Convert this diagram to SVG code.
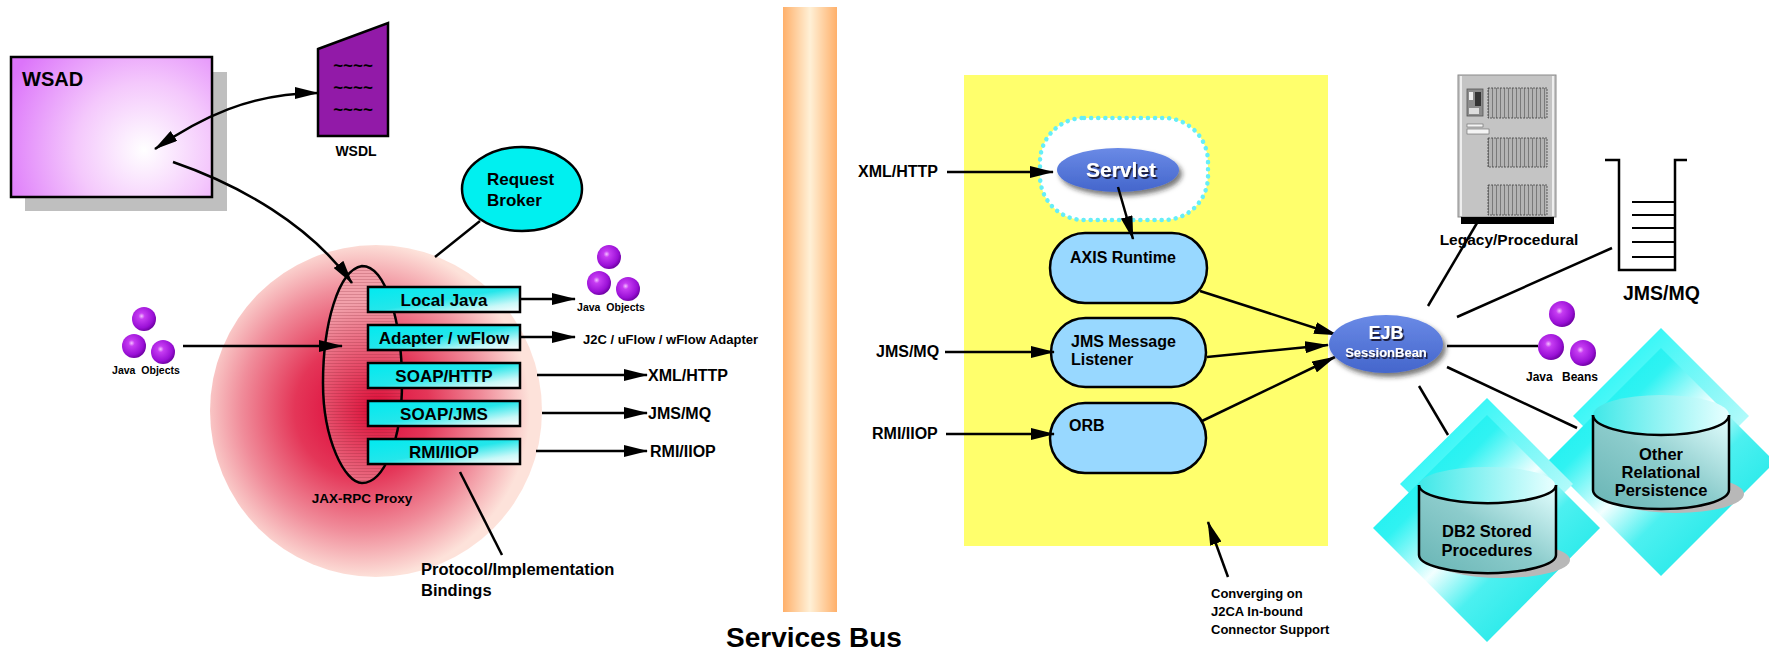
<svg xmlns="http://www.w3.org/2000/svg" xmlns:xlink="http://www.w3.org/1999/xlink" width="1769" height="652" viewBox="0 0 1769 652">
  <style>
    text { font-family: "Liberation Sans", Arial, sans-serif; font-weight: bold; fill: #000; }
    .line { fill: none; stroke: #000; stroke-width: 2.5; }
    .arrow { fill: none; stroke: #000; stroke-width: 2.5; marker-end: url(#head); }
    .pbox { fill: url(#pboxGrad); stroke: #000; stroke-width: 2.5; }
    .pill { fill: #98d8ff; stroke: #000; stroke-width: 2.5; }
    .plabel { font-size: 17px; text-anchor: middle; }
    .lbl16 { font-size: 16px; }
    .oval { fill: url(#ovalGrad); filter: url(#shadow); }
    .white { fill: #fff; filter: url(#textShadow); }
    .cyl { fill: url(#cylGrad); stroke: #000; stroke-width: 2.5; }
    .mid { text-anchor: middle; }
  </style>
  <defs>
    <marker id="head" viewBox="0 0 24 12" refX="23" refY="6" markerWidth="24" markerHeight="12" markerUnits="userSpaceOnUse" orient="auto-start-reverse">
      <path d="M0,0 L24,6 L0,12 z" fill="#000"/>
    </marker>
    <radialGradient id="wsadGrad" gradientUnits="userSpaceOnUse" cx="144" cy="150" r="150">
      <stop offset="0" stop-color="#ffffff"/>
      <stop offset="0.45" stop-color="#f4c8fc"/>
      <stop offset="1" stop-color="#dc74fa"/>
    </radialGradient>
    <radialGradient id="redGrad" gradientUnits="userSpaceOnUse" cx="362" cy="410" r="168">
      <stop offset="0" stop-color="#dc0034"/>
      <stop offset="0.4" stop-color="#e43658"/>
      <stop offset="0.72" stop-color="#f08c9a"/>
      <stop offset="1" stop-color="#fde2da"/>
    </radialGradient>
    <radialGradient id="proxyGrad" gradientUnits="userSpaceOnUse" cx="378" cy="410" r="110">
      <stop offset="0" stop-color="#dc0834"/>
      <stop offset="1" stop-color="#f2a0aa"/>
    </radialGradient>
    <pattern id="hatch" width="6" height="3" patternUnits="userSpaceOnUse">
      <line x1="0" y1="0.5" x2="6" y2="0.5" stroke="#7a1828" stroke-width="0.6" stroke-opacity="0.35"/>
    </pattern>
    <linearGradient id="pboxGrad" x1="0" y1="0" x2="1" y2="1">
      <stop offset="0" stop-color="#00eaf0"/>
      <stop offset="0.5" stop-color="#24e6ea"/>
      <stop offset="0.8" stop-color="#c8f8f8"/>
      <stop offset="1" stop-color="#ffffff"/>
    </linearGradient>
    <linearGradient id="busGrad" x1="0" y1="0" x2="1" y2="0">
      <stop offset="0" stop-color="#ffb06a"/>
      <stop offset="0.5" stop-color="#fff0d6"/>
      <stop offset="1" stop-color="#ffb06a"/>
    </linearGradient>
    <linearGradient id="ovalGrad" x1="0" y1="0" x2="0" y2="1">
      <stop offset="0" stop-color="#6a8ae6"/>
      <stop offset="1" stop-color="#4466cc"/>
    </linearGradient>
    <filter id="shadow" x="-20%" y="-30%" width="150%" height="170%">
      <feDropShadow dx="3" dy="4" stdDeviation="2.5" flood-color="#222" flood-opacity="0.6"/>
    </filter>
    <filter id="textShadow" x="-10%" y="-20%" width="130%" height="160%">
      <feDropShadow dx="1.5" dy="2" stdDeviation="0.3" flood-color="#1a1f3a" flood-opacity="1"/>
    </filter>
    <radialGradient id="beadGrad" cx="0.4" cy="0.38" r="0.65">
      <stop offset="0" stop-color="#f4c0ff"/>
      <stop offset="0.2" stop-color="#c63cf2"/>
      <stop offset="0.75" stop-color="#9a10d6"/>
      <stop offset="1" stop-color="#6c00a0"/>
    </radialGradient>
    <g id="bead"><circle r="12" fill="url(#beadGrad)"/></g>
    <g id="beadL"><circle r="13" fill="url(#beadGrad)"/></g>
    <linearGradient id="diaGrad" x1="0" y1="0" x2="1" y2="1">
      <stop offset="0" stop-color="#00f0f0"/>
      <stop offset="0.3" stop-color="#30f2f2"/>
      <stop offset="0.48" stop-color="#f2ffff"/>
      <stop offset="0.62" stop-color="#4cf0f0"/>
      <stop offset="1" stop-color="#00e2e2"/>
    </linearGradient>
    <linearGradient id="diaBackGrad" x1="0" y1="0" x2="1" y2="1">
      <stop offset="0" stop-color="#00f6f6"/>
      <stop offset="0.6" stop-color="#8ff8f8"/>
      <stop offset="1" stop-color="#e8ffff"/>
    </linearGradient>
    <linearGradient id="cylGrad" x1="0" y1="1" x2="1" y2="0">
      <stop offset="0" stop-color="#68b4b4"/>
      <stop offset="0.5" stop-color="#8ccccc"/>
      <stop offset="1" stop-color="#e4ffff"/>
    </linearGradient>
    <linearGradient id="cylTopGrad" x1="0" y1="0" x2="1" y2="0">
      <stop offset="0" stop-color="#40e8e8"/>
      <stop offset="1" stop-color="#e8ffff"/>
    </linearGradient>
    <pattern id="grille" width="4" height="4" patternUnits="userSpaceOnUse">
      <rect width="4" height="4" fill="#b4b4b4"/>
      <rect width="1" height="4" fill="#7a7a7a"/>
    </pattern>
  </defs>

  <rect width="1769" height="652" fill="#fff"/>

  <!-- Services bus column -->
  <g id="services-bus">
    <rect x="783" y="7" width="54" height="605" fill="url(#busGrad)"/>
    <text x="814" y="647" font-size="28" class="mid">Services Bus</text>
  </g>

  <!-- In-bound connector region -->
  <g id="inbound-region">
    <rect x="964" y="75" width="364" height="471" fill="#ffff6c"/>
  </g>

  <!-- WSAD workbench -->
  <g id="wsad">
    <rect x="25" y="72" width="202" height="139" fill="#bfbfbf"/>
    <rect x="11" y="57" width="201" height="140" fill="url(#wsadGrad)" stroke="#000" stroke-width="2.5"/>
    <text x="22" y="86" font-size="20">WSAD</text>
  </g>

  <!-- WSDL document -->
  <g id="wsdl">
    <polygon points="318,49 388,23 388,136 318,136" fill="#921aa8" stroke="#000" stroke-width="2.5"/>
    <text x="353" y="71" font-size="17" class="mid" font-weight="normal">~~~~</text>
    <text x="353" y="93" font-size="17" class="mid" font-weight="normal">~~~~</text>
    <text x="353" y="115" font-size="17" class="mid" font-weight="normal">~~~~</text>
    <text x="356" y="156" font-size="14" class="mid">WSDL</text>
  </g>

  <!-- Request broker sphere -->
  <g id="request-broker-sphere">
    <circle cx="376" cy="411" r="166" fill="url(#redGrad)"/>
  </g>

  <!-- JAX-RPC proxy -->
  <g id="jax-rpc-proxy">
    <path d="M362,266 C338,270 323,325 323,383 C323,440 345,483 362,483 C384,483 402,440 402,383 C402,322 386,266 362,266 Z" fill="url(#proxyGrad)"/>
    <path d="M362,266 C338,270 323,325 323,383 C323,440 345,483 362,483 C384,483 402,440 402,383 C402,322 386,266 362,266 Z" fill="url(#hatch)" stroke="#000" stroke-width="2.5"/>
    <text x="362" y="503" font-size="13.5" class="mid">JAX-RPC Proxy</text>
  </g>

  <!-- Protocol / implementation bindings -->
  <g id="binding-local-java">
    <rect x="368" y="287" width="152" height="25" class="pbox"/>
    <text x="444" y="306" class="plabel">Local Java</text>
  </g>
  <g id="binding-adapter">
    <rect x="368" y="325" width="152" height="25" class="pbox"/>
    <text x="444" y="344" class="plabel">Adapter / wFlow</text>
  </g>
  <g id="binding-soap-http">
    <rect x="368" y="363" width="152" height="25" class="pbox"/>
    <text x="444" y="382" class="plabel">SOAP/HTTP</text>
  </g>
  <g id="binding-soap-jms">
    <rect x="368" y="401" width="152" height="25" class="pbox"/>
    <text x="444" y="420" class="plabel">SOAP/JMS</text>
  </g>
  <g id="binding-rmi-iiop">
    <rect x="368" y="439" width="152" height="25" class="pbox"/>
    <text x="444" y="458" class="plabel">RMI/IIOP</text>
  </g>

  <!-- Request broker label -->
  <g id="request-broker">
    <ellipse cx="522" cy="189" rx="60" ry="42" fill="#00f0f0" stroke="#000" stroke-width="2.5"/>
    <text x="487" y="185" font-size="17">Request</text>
    <text x="487" y="206" font-size="17">Broker</text>
  </g>

  <g id="bindings-label">
    <text x="421" y="575" font-size="16.5">Protocol/Implementation</text>
    <text x="421" y="596" font-size="16.5">Bindings</text>
  </g>

  <!-- Java objects, client side -->
  <g id="java-objects-in">
    <use xlink:href="#bead" x="144" y="319"/>
    <use xlink:href="#bead" x="134" y="346"/>
    <use xlink:href="#bead" x="163" y="352"/>
    <text x="146" y="374" font-size="10.5" class="mid" word-spacing="3">Java Objects</text>
  </g>

  <!-- Java objects, local binding target -->
  <g id="java-objects-out">
    <use xlink:href="#bead" x="609" y="257"/>
    <use xlink:href="#bead" x="599" y="283"/>
    <use xlink:href="#bead" x="628" y="289"/>
    <text x="611" y="311" font-size="10.5" class="mid" word-spacing="3">Java Objects</text>
  </g>

  <g id="binding-targets">
    <text x="583" y="344" font-size="13">J2C / uFlow / wFlow Adapter</text>
    <text x="648" y="381" class="lbl16">XML/HTTP</text>
    <text x="648" y="419" class="lbl16">JMS/MQ</text>
    <text x="650" y="457" class="lbl16">RMI/IIOP</text>
  </g>

  <!-- Inbound protocol labels -->
  <g id="inbound-labels">
    <text x="858" y="177" class="lbl16">XML/HTTP</text>
    <text x="876" y="357" class="lbl16">JMS/MQ</text>
    <text x="872" y="439" class="lbl16">RMI/IIOP</text>
  </g>

  <!-- Servlet -->
  <g id="servlet">
    <rect x="1040" y="118" width="168" height="102" rx="44" fill="#fff" stroke="#66eef8" stroke-width="4.5" stroke-dasharray="0.1,7" stroke-linecap="round"/>
    <ellipse cx="1118" cy="170" rx="61" ry="22" class="oval"/>
    <text x="1121" y="177" font-size="21" class="mid white">Servlet</text>
  </g>

  <g id="axis-runtime">
    <rect x="1050" y="233" width="157" height="70" rx="35" class="pill"/>
    <text x="1070" y="263" class="lbl16">AXIS Runtime</text>
  </g>

  <g id="jms-listener">
    <rect x="1051" y="318" width="155" height="69" rx="34.5" class="pill"/>
    <text x="1071" y="347" class="lbl16">JMS Message</text>
    <text x="1071" y="365" class="lbl16">Listener</text>
  </g>

  <g id="orb">
    <rect x="1050" y="403" width="156" height="70" rx="35" class="pill"/>
    <text x="1069" y="431" class="lbl16">ORB</text>
  </g>

  <g id="converging-note">
    <text x="1211" y="598" font-size="13">Converging on</text>
    <text x="1211" y="616" font-size="13">J2CA In-bound</text>
    <text x="1211" y="634" font-size="13">Connector Support</text>
  </g>

  <!-- Legacy server -->
  <g id="legacy">
    <rect x="1458" y="75" width="98" height="142" fill="#c4c4c4" stroke="#8a8a8a" stroke-width="1"/>
    <line x1="1461" y1="76" x2="1461" y2="216" stroke="#eeeeee" stroke-width="2"/>
    <line x1="1553" y1="76" x2="1553" y2="216" stroke="#eeeeee" stroke-width="2"/>
    <rect x="1461" y="217" width="93" height="7" fill="#000"/>
    <rect x="1488" y="88" width="59" height="30" fill="url(#grille)" stroke="#444" stroke-width="0.8" stroke-dasharray="2,1"/>
    <rect x="1488" y="138" width="59" height="29" fill="url(#grille)" stroke="#444" stroke-width="0.8" stroke-dasharray="2,1"/>
    <rect x="1488" y="185" width="59" height="30" fill="url(#grille)" stroke="#444" stroke-width="0.8" stroke-dasharray="2,1"/>
    <rect x="1467" y="89" width="16" height="27" fill="#8c8c8c" stroke="#555" stroke-width="0.8"/>
    <rect x="1469" y="92" width="4" height="8" fill="#eee"/>
    <rect x="1475" y="92" width="6" height="14" fill="#333"/>
    <rect x="1469" y="108" width="10" height="6" fill="#ddd"/>
    <rect x="1467" y="124" width="16" height="3" fill="#f4f4f4" stroke="#666" stroke-width="0.6"/>
    <rect x="1467" y="129" width="22" height="5" fill="#f4f4f4" stroke="#666" stroke-width="0.6"/>
    <text x="1509" y="245" font-size="15.5" class="mid">Legacy/Procedural</text>
  </g>

  <!-- JMS/MQ queue -->
  <g id="queue">
    <polyline points="1605,160 1619,160 1619,270 1675,270 1675,160 1687,160" fill="none" stroke="#000" stroke-width="2.5"/>
    <path d="M1632,202 H1675 M1632,215 H1675 M1632,228 H1675 M1632,242 H1675 M1632,257 H1675" stroke="#000" stroke-width="2"/>
    <text x="1623" y="300" font-size="19.5">JMS/MQ</text>
  </g>

  <!-- Java beans -->
  <g id="java-beans">
    <use xlink:href="#beadL" x="1562" y="314"/>
    <use xlink:href="#beadL" x="1551" y="347"/>
    <use xlink:href="#beadL" x="1583" y="353"/>
    <text x="1562" y="381" font-size="12" class="mid" word-spacing="6">Java Beans</text>
  </g>

  <!-- Other relational persistence store -->
  <g id="other-relational">
    <polygon points="1661,328 1749,416 1661,504 1573,416" fill="url(#diaBackGrad)"/>
    <polygon points="1661,348 1775,462 1661,576 1547,462" fill="url(#diaGrad)"/>
    <ellipse cx="1676" cy="494" rx="68" ry="19" fill="#b8b8b8"/>
    <path d="M1593,415 V490 A68,19 0 0 0 1729,490 V415" class="cyl"/>
    <ellipse cx="1661" cy="415" rx="68" ry="20" fill="url(#cylTopGrad)" stroke="none"/>
    <path d="M1593,415 A68,20 0 0 0 1729,415" fill="none" stroke="#000" stroke-width="2.5"/>
    <text x="1661" y="460" font-size="16.5" class="mid">Other</text>
    <text x="1661" y="478" font-size="16.5" class="mid">Relational</text>
    <text x="1661" y="496" font-size="16.5" class="mid">Persistence</text>
  </g>

  <!-- DB2 stored procedures store -->
  <g id="db2">
    <polygon points="1487,398 1573,484 1487,570 1400,484" fill="url(#diaBackGrad)"/>
    <polygon points="1487,415 1600,528 1487,642 1373,528" fill="url(#diaGrad)"/>
    <ellipse cx="1502" cy="560" rx="68" ry="18" fill="#b8b8b8"/>
    <path d="M1419,485 V555 A68,18 0 0 0 1556,555 V485" class="cyl"/>
    <ellipse cx="1487" cy="485" rx="68" ry="18" fill="url(#cylTopGrad)" stroke="none"/>
    <path d="M1419,485 A68,18 0 0 0 1556,485" fill="none" stroke="#000" stroke-width="2.5"/>
    <text x="1487" y="537" font-size="16.5" class="mid">DB2 Stored</text>
    <text x="1487" y="556" font-size="16.5" class="mid">Procedures</text>
  </g>

  <!-- Connectors -->
  <g id="connectors">
    <path d="M155,149 C200,118 250,93 318,93" class="arrow" style="marker-start:url(#head)"/>
    <path d="M173,162 C240,185 310,225 352,283" class="arrow"/>
    <path d="M183,346 L342,346" class="arrow"/>
    <path d="M480,221 L435,257" class="line"/>
    <path d="M460,472 L502,555" class="line"/>
    <path d="M520,299 L575,299" class="arrow"/>
    <path d="M520,337 L575,337" class="arrow"/>
    <path d="M537,375 L647,375" class="arrow"/>
    <path d="M542,413 L647,413" class="arrow"/>
    <path d="M536,451 L647,451" class="arrow"/>
    <path d="M947,172 L1053,172" class="arrow"/>
    <path d="M945,352 L1054,352" class="arrow"/>
    <path d="M946,434 L1054,434" class="arrow"/>
    <path d="M1118,187 L1133,239" class="arrow"/>
    <path d="M1200,291 L1337,335" class="arrow"/>
    <path d="M1207,357 L1328,345" class="arrow"/>
    <path d="M1202,421 L1335,357" class="arrow"/>
    <path d="M1228,577 L1208,522" class="arrow"/>
    <path d="M1428,306 L1477,223" class="line"/>
    <path d="M1457,317 L1612,248" class="line"/>
    <path d="M1447,346 L1538,346" class="line"/>
    <path d="M1447,367 L1577,428" class="line"/>
    <path d="M1419,386 L1448,435" class="line"/>
  </g>

  <!-- EJB session bean -->
  <g id="ejb">
    <ellipse cx="1386" cy="344" rx="57" ry="29" class="oval"/>
    <text x="1386" y="339" font-size="18" class="mid white">EJB</text>
    <text x="1386" y="357" font-size="13" class="mid white">SessionBean</text>
  </g>
</svg>
